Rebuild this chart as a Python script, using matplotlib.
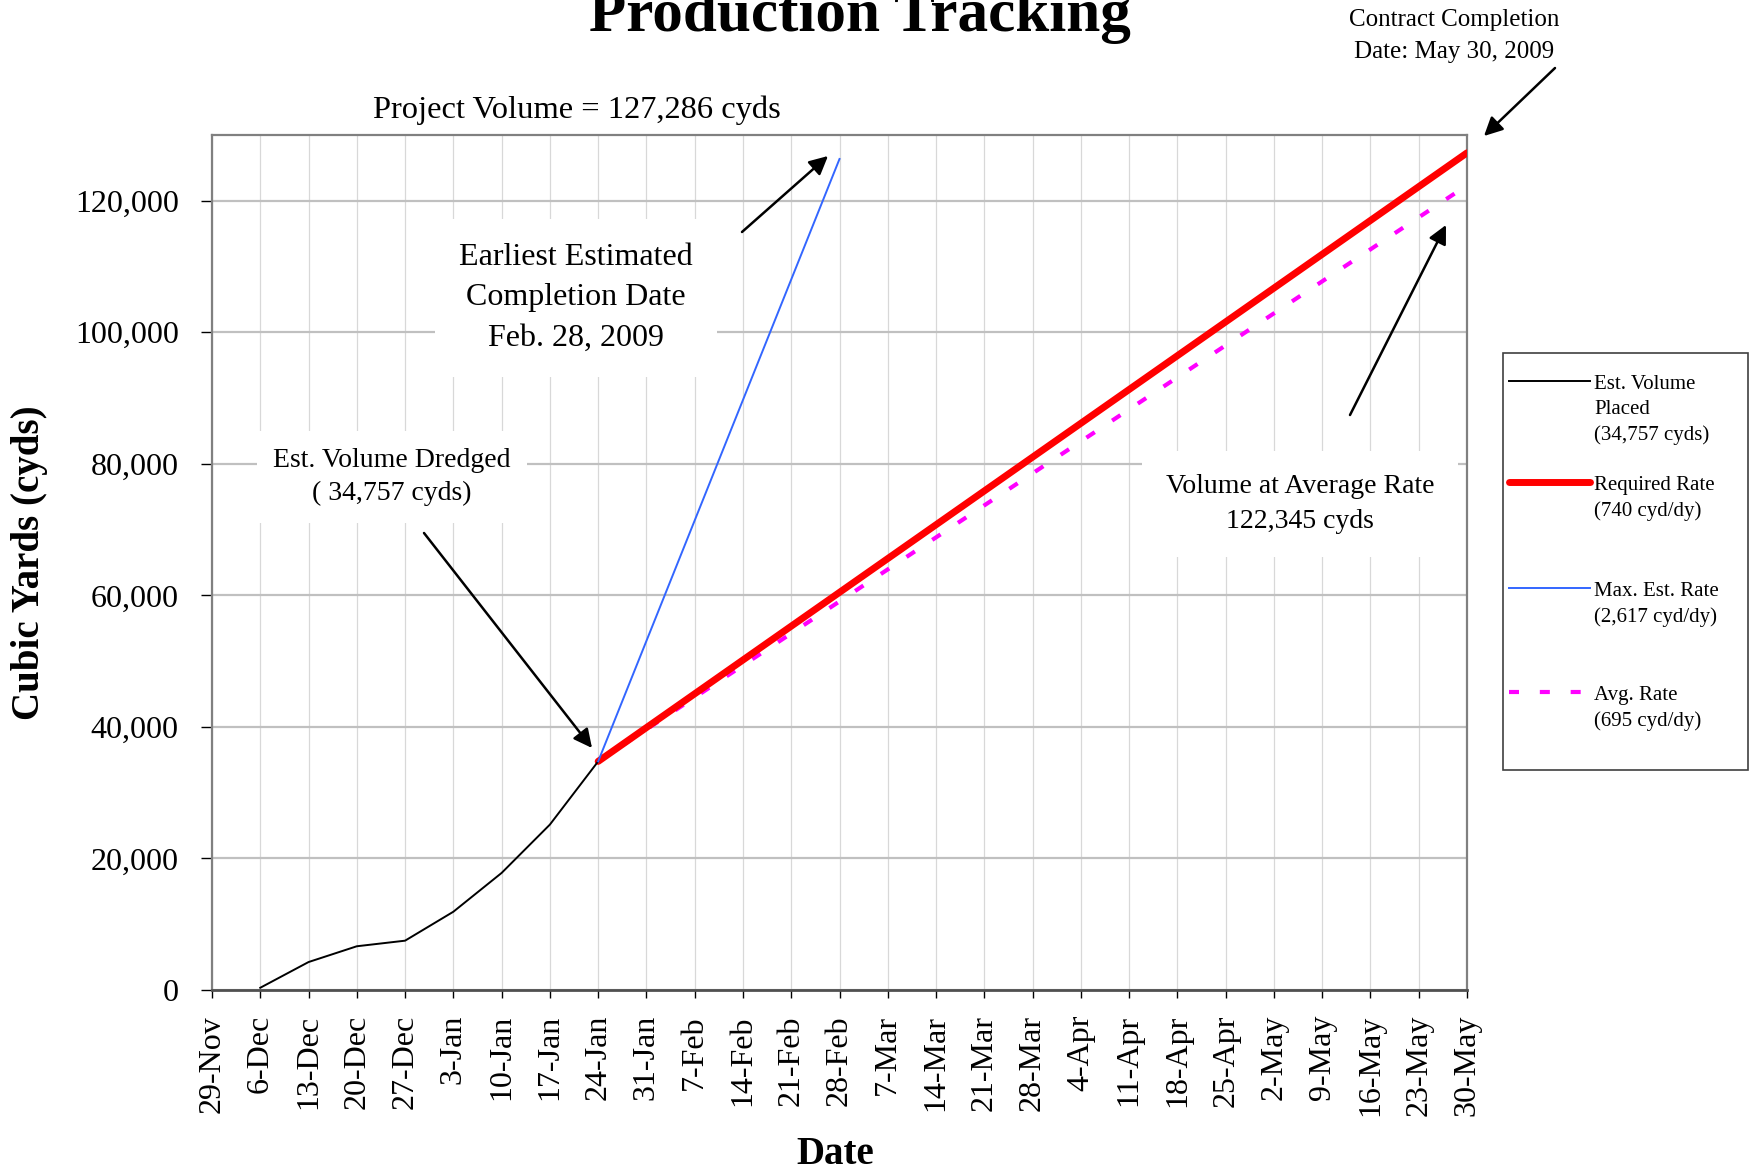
import pandas as pd
from matplotlib import pyplot as plt
from matplotlib.lines import Line2D
from matplotlib.patches import Rectangle
from matplotlib.ticker import FuncFormatter

plt.rcParams['font.family'] = ['Liberation Serif', 'DejaVu Serif']

W, H = 1750, 1171

# ======== DATA =========
placed_dates = ['2008-12-06', '2008-12-13', '2008-12-20', '2008-12-27',
                '2009-01-03', '2009-01-10', '2009-01-17', '2009-01-24']
placed_vals = [340, 4250, 6650, 7500, 11900, 17800, 25150, 34757]

required_dates = ['2009-01-24', '2009-05-30']
required_vals = [34757, 127286]

max_dates = ['2009-01-24', '2009-02-28']
max_vals = [34757, 126352]

avg_dates = ['2009-01-24', '2009-05-30']
avg_vals = [34757, 122345]

tick_labels = ['29-Nov', '6-Dec', '13-Dec', '20-Dec', '27-Dec', '3-Jan', '10-Jan',
               '17-Jan', '24-Jan', '31-Jan', '7-Feb', '14-Feb', '21-Feb', '28-Feb',
               '7-Mar', '14-Mar', '21-Mar', '28-Mar', '4-Apr', '11-Apr', '18-Apr',
               '25-Apr', '2-May', '9-May', '16-May', '23-May', '30-May']
y_ticks = [0, 20000, 40000, 60000, 80000, 100000, 120000]

legend_labels = ['Est. Volume\nPlaced\n(34,757 cyds)',
                 'Required Rate\n(740 cyd/dy)',
                 'Max. Est. Rate\n(2,617 cyd/dy)',
                 'Avg. Rate\n(695 cyd/dy)']

# line styles
st_placed = dict(color='black', lw=1.4)
st_req = dict(color='#FF0000', lw=5, solid_capstyle='round')
st_max = dict(color='#3366FF', lw=1.4)
st_avg = dict(color='#FF00FF', lw=3, ls=(0, (2.4, 5.0)))


def px(x, y):
    # pixel position (from top-left) -> figure fraction
    return x / W, 1 - y / H


# ======== PLOT =========
fig = plt.figure(figsize=(W / 100, H / 100), dpi=100)
ax = fig.add_axes([212 / W, 181 / H, 1255 / W, 855 / H])

ax.plot(pd.to_datetime(placed_dates), placed_vals, zorder=4, **st_placed)
ax.plot(pd.to_datetime(avg_dates), avg_vals, zorder=3, **st_avg)
ax.plot(pd.to_datetime(required_dates), required_vals, zorder=3, **st_req)
ax.plot(pd.to_datetime(max_dates), max_vals, zorder=4, **st_max)

tick_dates = pd.date_range('2008-11-29', '2009-05-30', freq='7D')
ax.set_xlim(tick_dates[0], tick_dates[-1])
ax.set_xticks(tick_dates)
ax.set_xticklabels(tick_labels, rotation=90)
ax.set_ylim(0, 130000)
ax.set_yticks(y_ticks)
ax.yaxis.set_major_formatter(FuncFormatter(lambda v, p: f'{int(v):,}'))

ax.set_axisbelow(True)
ax.grid(axis='y', color='#c0c0c0', lw=1.6)
ax.grid(axis='x', color='#d8d8d8', lw=0.9)
for s in ax.spines.values():
    s.set_color('#808080')
    s.set_linewidth(1.6)
ax.spines['bottom'].set_color('#505050')
ax.spines['bottom'].set_linewidth(2)

ax.tick_params(axis='y', direction='out', length=8, width=1, color='black', pad=16, labelsize=23)
ax.tick_params(axis='x', direction='out', length=6, width=1, color='black', pad=12, labelsize=23)

ax.set_ylabel('Cubic Yards (cyds)', fontsize=28, fontweight='bold')
ax.yaxis.set_label_coords(-0.131, 0.5)
ax.set_xlabel('Date', fontsize=28, fontweight='bold')
ax.xaxis.set_label_coords(0.497, -0.171)

# title (cut off at top in the original)
fig.text(*px(860, 31), 'Production Tracking', ha='center', va='baseline',
         fontsize=44, fontweight='bold')

# text notes
fig.text(*px(577, 110), 'Project Volume = 127,286 cyds', ha='center', va='center', fontsize=23.4)
fig.text(*px(1454, 36), 'Contract Completion\nDate: May 30, 2009', ha='center', va='center',
         fontsize=18, linespacing=1.6)
fig.text(*px(576, 298), 'Earliest Estimated\nCompletion Date\nFeb. 28, 2009', ha='center',
         va='center', fontsize=23, linespacing=1.52,
         bbox=dict(boxstyle='square,pad=0.75', fc='white', ec='none'))
fig.text(*px(392, 477), 'Est. Volume Dredged\n( 34,757 cyds)', ha='center', va='center',
         fontsize=20, linespacing=1.45,
         bbox=dict(boxstyle='square,pad=0.6', fc='white', ec='none'))
fig.text(*px(1300, 504), 'Volume at Average Rate\n122,345 cyds', ha='center', va='center',
         fontsize=20, linespacing=1.48,
         bbox=dict(boxstyle='square,pad=0.85', fc='white', ec='none'))

# arrows
arrows = [((1555, 68), (1484, 136)),
          ((742, 232), (828, 156)),
          ((424, 533), (592, 748)),
          ((1350, 415), (1446, 225))]
for start, end in arrows:
    ax.annotate('', xy=px(*end), xytext=px(*start), xycoords='figure fraction',
                textcoords='figure fraction',
                arrowprops=dict(arrowstyle='-|>', color='black', lw=1.8, mutation_scale=28,
                                shrinkA=0, shrinkB=0))

# legend, drawn by hand so the line sits on the first text line
x0, y0 = px(1503, 770)
x1, y1 = px(1748, 353)
fig.add_artist(Rectangle((x0, y0), x1 - x0, y1 - y0, transform=fig.transFigure,
                         fc='white', ec='#404040', lw=1.2, zorder=5))
legend_y = [381, 482, 588, 692]
for st, label, yy in zip([st_placed, st_req, st_max, st_avg], legend_labels, legend_y):
    lx0, ly = px(1509, yy)
    lx1, _ = px(1590, yy)
    fig.add_artist(Line2D([lx0, lx1], [ly, ly], transform=fig.transFigure, zorder=6, **st))
    fig.text(*px(1594, yy - 6), label, ha='left', va='top', fontsize=15,
             linespacing=1.41, zorder=6)

plt.savefig('out.png', dpi=100)
